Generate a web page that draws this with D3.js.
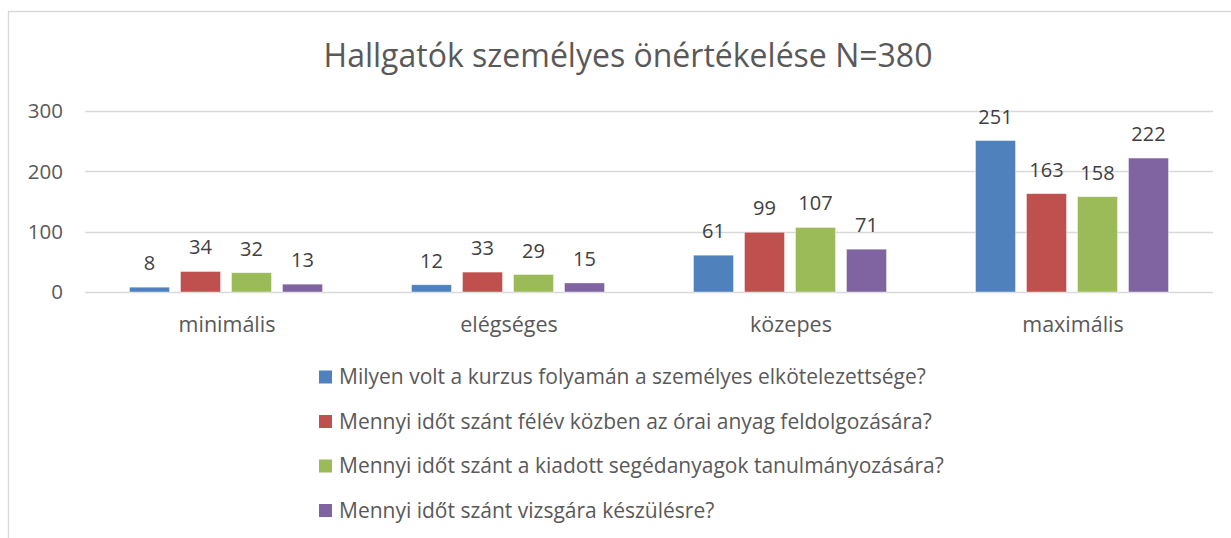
<!DOCTYPE html>
<html><head><meta charset="utf-8">
<script src="https://cdn.jsdelivr.net/npm/d3@7"></script>
<style>body{margin:0;background:#fff;} svg{display:block;font-family:"Open Sans",sans-serif;}</style>
</head><body><svg id="c" width="1231" height="538"></svg>
<script>
const categories = ["minimális", "elégséges", "közepes", "maximális"];
const seriesNames = [
  "Milyen volt a kurzus folyamán a személyes elkötelezettsége?",
  "Mennyi időt szánt félév közben az órai anyag feldolgozására?",
  "Mennyi időt szánt a kiadott segédanyagok tanulmányozására?",
  "Mennyi időt szánt vizsgára készülésre?"
];
const s1 = [8, 12, 61, 251];
const s2 = [34, 33, 99, 163];
const s3 = [32, 29, 107, 158];
const s4 = [13, 15, 71, 222];
const yTicks = [0, 100, 200, 300];
const colors = ["#4F81BD", "#C0504D", "#9BBB59", "#8064A2"];
const title = "Hallgatók személyes önértékelése N=380";

const series = [s1, s2, s3, s4];
const svg = d3.select("#c");

// frame
svg.append("path").attr("d", "M8.5,538 L8.5,11.5 L1231,11.5").attr("fill","none").attr("stroke","#d9d9d9").attr("stroke-width",1.3);

const left = 85, right = 1213, y0 = 292, yTop = 111;
const x0 = d3.scaleBand().domain(categories).range([left, right]).padding(0);
const x1 = d3.scaleBand().domain(d3.range(4)).range([0, x0.bandwidth()]).paddingInner(11/51).paddingOuter(0.8725);
const y = d3.scaleLinear().domain([0, 300]).range([y0, yTop]);

// gridlines
svg.append("g").selectAll("line").data(yTicks).join("line")
  .attr("x1", left).attr("x2", right).attr("y1", d => Math.round(y(d))+0.5).attr("y2", d => Math.round(y(d))+0.5)
  .attr("stroke", "#d9d9d9").attr("stroke-width", 1.3);

// y axis labels
svg.append("g").selectAll("text").data(yTicks).join("text")
  .attr("x", 63).attr("y", d => y(d)).attr("dy", "0.35em").attr("text-anchor", "end")
  .attr("font-size", 20.5).attr("fill", "#595959").text(d => d);

// title
svg.append("text").attr("x", 628).attr("y", 56).attr("dy","0.35em").attr("text-anchor","middle")
  .attr("font-size", 32).attr("fill", "#595959").text(title);

// bars
const g = svg.append("g").selectAll("g").data(categories).join("g")
  .attr("transform", d => `translate(${x0(d)},0)`);
g.selectAll("rect").data((c, ci) => series.map((s, si) => ({si, v: s[ci]}))).join("rect")
  .attr("x", d => x1(d.si)).attr("width", x1.bandwidth())
  .attr("y", d => y(d.v)).attr("height", d => y0 - y(d.v))
  .attr("fill", d => colors[d.si]).attr("stroke", "#fff").attr("stroke-opacity", 0.5).attr("stroke-width", 0.8);
g.selectAll("text").data((c, ci) => series.map((s, si) => ({si, v: s[ci]}))).join("text")
  .attr("x", d => x1(d.si) + x1.bandwidth()/2).attr("y", d => y(d.v) - 24).attr("dy","0.35em")
  .attr("text-anchor", "middle").attr("font-size", 20).attr("fill", "#404040").text(d => d.v);

// category labels
svg.append("g").selectAll("text").data(categories).join("text")
  .attr("x", d => x0(d) + x0.bandwidth()/2 + 1).attr("y", 324).attr("dy","0.35em")
  .attr("text-anchor","middle").attr("font-size", 21.5).attr("fill","#595959").text(d => d);

// legend
const lg = svg.append("g").selectAll("g").data(seriesNames).join("g")
  .attr("transform", (d,i) => `translate(319,${377 + i*44.5})`);
lg.append("rect").attr("x",0).attr("y",-6.5).attr("width",13).attr("height",13).attr("fill",(d,i)=>colors[i]);
lg.append("text").attr("x",20).attr("y",0).attr("dy","0.35em").attr("font-size",21).attr("fill","#595959").text(d=>d);
</script></body></html>
